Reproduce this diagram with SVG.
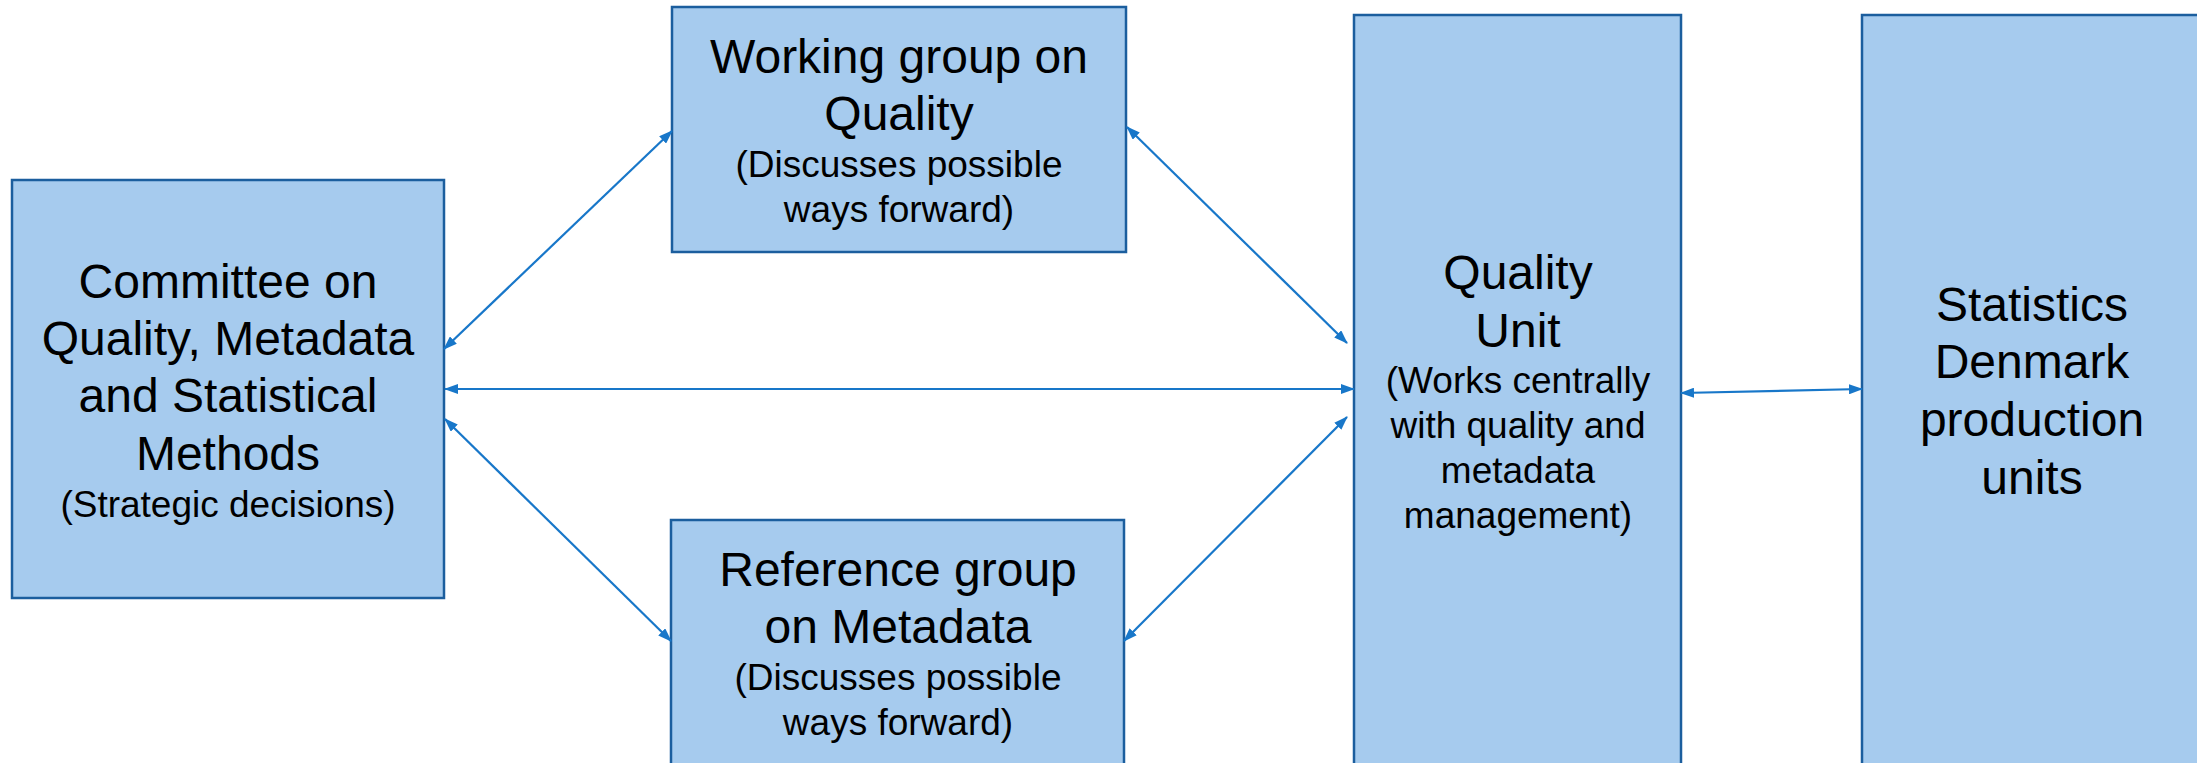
<svg xmlns="http://www.w3.org/2000/svg" width="2197" height="763" viewBox="0 0 2197 763">
<style>
.box{fill:#A6CBEE;stroke:#1B5E9E;stroke-width:2.5}
.t{font-family:"Liberation Sans",Arial,sans-serif;fill:#000;text-anchor:middle}
.h{font-size:48px}
.s{font-size:37px}
.c{stroke:#1877C9;stroke-width:2.2;fill:none;marker-start:url(#ah);marker-end:url(#ah)}
</style>
<defs>
<marker id="ah" viewBox="0 0 14 10" refX="13" refY="5" markerWidth="14" markerHeight="10" markerUnits="userSpaceOnUse" orient="auto-start-reverse">
<path d="M0,0 L14,5 L0,10 z" fill="#1877C9"/>
</marker>
</defs>
<rect width="2197" height="763" fill="#fff"/>
<g id="committee">
<rect class="box" x="12" y="180" width="432" height="418"/>
<text class="t h" x="228" y="298">Committee on</text>
<text class="t h" x="228" y="355">Quality, Metadata</text>
<text class="t h" x="228" y="412">and Statistical</text>
<text class="t h" x="228" y="470">Methods</text>
<text class="t s" x="228" y="517">(Strategic decisions)</text>
</g>
<g id="working-group">
<rect class="box" x="672" y="7" width="454" height="245"/>
<text class="t h" x="899" y="73">Working group on</text>
<text class="t h" x="899" y="130">Quality</text>
<text class="t s" x="899" y="177">(Discusses possible</text>
<text class="t s" x="899" y="222">ways forward)</text>
</g>
<g id="reference-group">
<rect class="box" x="671" y="520" width="453" height="260"/>
<text class="t h" x="898" y="586">Reference group</text>
<text class="t h" x="898" y="643">on Metadata</text>
<text class="t s" x="898" y="690">(Discusses possible</text>
<text class="t s" x="898" y="735">ways forward)</text>
</g>
<g id="quality-unit">
<rect class="box" x="1354" y="15" width="327" height="765"/>
<text class="t h" x="1518" y="289">Quality</text>
<text class="t h" x="1518" y="347">Unit</text>
<text class="t s" x="1518" y="393">(Works centrally</text>
<text class="t s" x="1518" y="438">with quality and</text>
<text class="t s" x="1518" y="483">metadata</text>
<text class="t s" x="1518" y="528">management)</text>
</g>
<g id="statistics-denmark">
<rect class="box" x="1862" y="15" width="345" height="765"/>
<text class="t h" x="2032" y="321">Statistics</text>
<text class="t h" x="2032" y="378">Denmark</text>
<text class="t h" x="2032" y="436">production</text>
<text class="t h" x="2032" y="494">units</text>
</g>
<g id="connectors">
<line class="c" x1="444" y1="349" x2="672" y2="131"/>
<line class="c" x1="1127" y1="127" x2="1347" y2="343"/>
<line class="c" x1="445" y1="389" x2="1354" y2="389"/>
<line class="c" x1="445" y1="419" x2="671" y2="641"/>
<line class="c" x1="1347" y1="417" x2="1124" y2="641"/>
<line class="c" x1="1681" y1="393" x2="1862" y2="389"/>
</g>
</svg>
